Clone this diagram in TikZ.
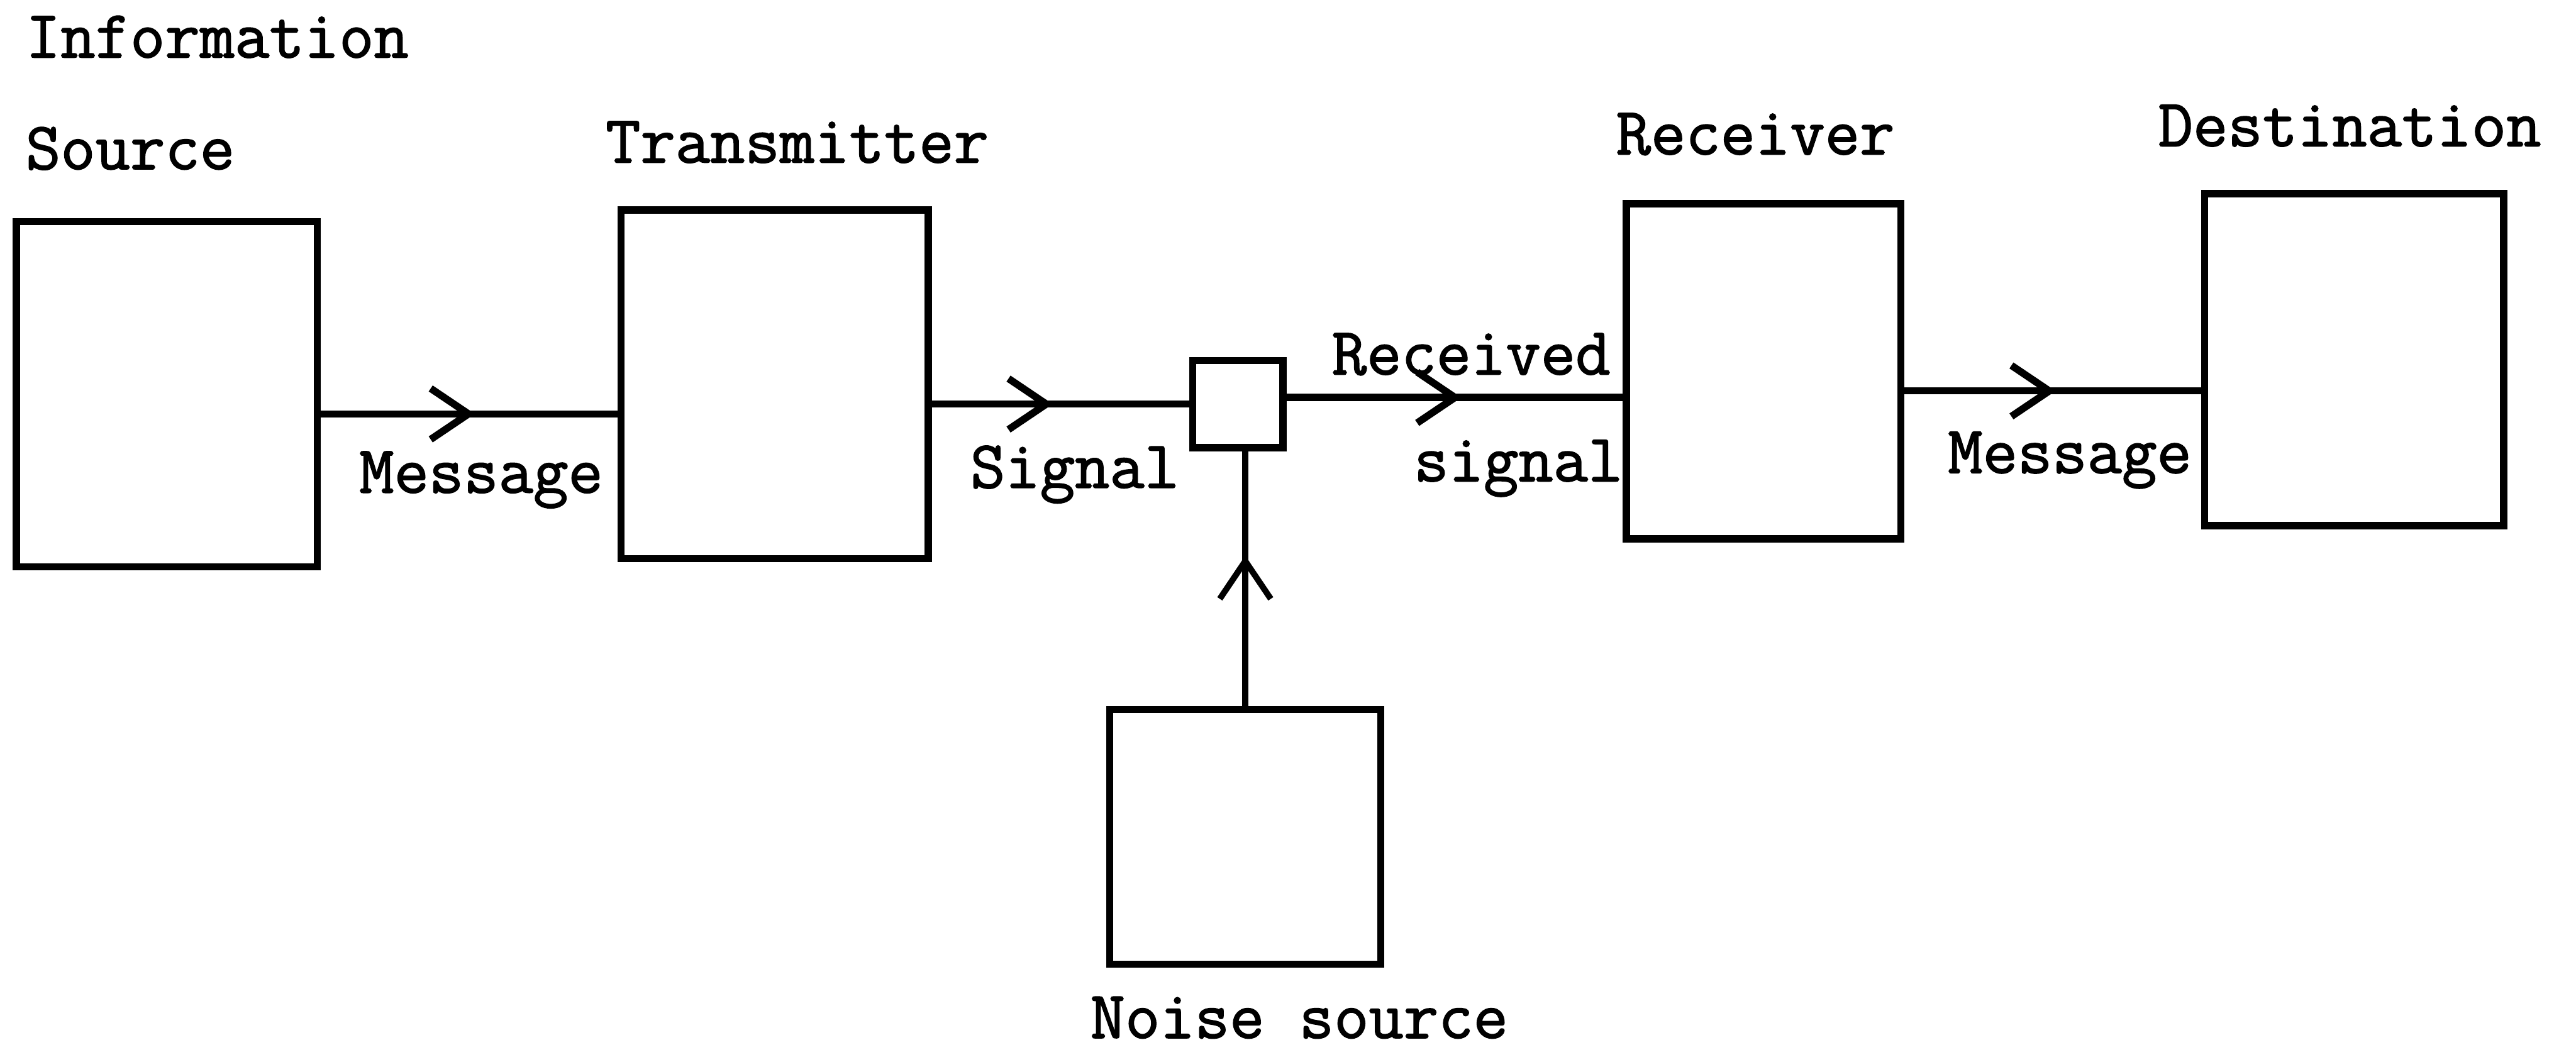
\documentclass[tikz,border=0pt]{standalone}
\usepackage{fontspec}
\setmonofont[FakeBold=1.6]{Latin Modern Mono}
\usetikzlibrary{arrows.meta,decorations.markings,calc}
\tikzset{
  box/.style={draw, line width=1.25pt, inner sep=0pt, rectangle},
  lbl/.style={inner sep=0pt, anchor=base west, font=\fontsize{11.7}{14}\selectfont\ttfamily\bfseries},
  flow/.style={line width=1.25pt, postaction={decorate},
    decoration={markings, mark=at position #1 with {\arrow{Straight Barb[length=0.23cm,width=0.31cm]}}}}
}
\begin{document}
\begin{tikzpicture}[x=0.01cm,y=-0.01cm]
\useasboundingbox (0,0) rectangle (1568,636);
% boxes
\node[box, minimum width=1.83cm, minimum height=2.10cm] (src) at (101.5,240) {};
\node[box, minimum width=1.87cm, minimum height=2.12cm] (tx) at (471.5,234) {};
\node[box, minimum width=0.55cm, minimum height=0.53cm] (mix) at (753.5,246) {};
\node[box, minimum width=1.67cm, minimum height=2.04cm] (rx) at (1073.5,226) {};
\node[box, minimum width=1.82cm, minimum height=2.02cm] (dst) at (1433,219) {};
\node[box, minimum width=1.65cm, minimum height=1.55cm] (noise) at (758,509.5) {};
% connectors
\coordinate (a1) at ([yshift=-0.12cm]src.east);
\draw[flow=0.52] (a1) -- (tx.west |- a1);
\coordinate (a2) at ([yshift=-0.12cm]tx.east);
\draw[flow=0.47] (a2) -- (mix.west |- a2);
\coordinate (a3) at ([yshift=0.04cm]mix.east);
\draw[flow=0.52] (a3) -- (rx.west |- a3);
\coordinate (a4) at ([yshift=-0.12cm]rx.east);
\draw[flow=0.51] (a4) -- (dst.west |- a4);
\draw[flow=0.59, line width=1.05pt] (noise.north) -- (noise.north |- mix.south);
% labels
\node[lbl] (tInfo) at (15,35) {Information};
\node[lbl] (tSrc) at (15,103) {Source};
\node[lbl] (tTx) at (368,99) {Transmitter};
\node[lbl] (tMsg1) at (218,300) {Message};
\node[lbl] (tSig) at (590,297) {Signal};
\node[lbl] (tRec) at (810,228) {Received};
\node[lbl] (tRsig) at (860,293) {signal};
\node[lbl] (tRx) at (983,94) {Receiver};
\node[lbl] (tMsg2) at (1185,288) {Message};
\node[lbl] (tDst) at (1313,89) {Destination};
\node[lbl] (tNoise) at (663,632) {Noise source};
\end{tikzpicture}
\end{document}
